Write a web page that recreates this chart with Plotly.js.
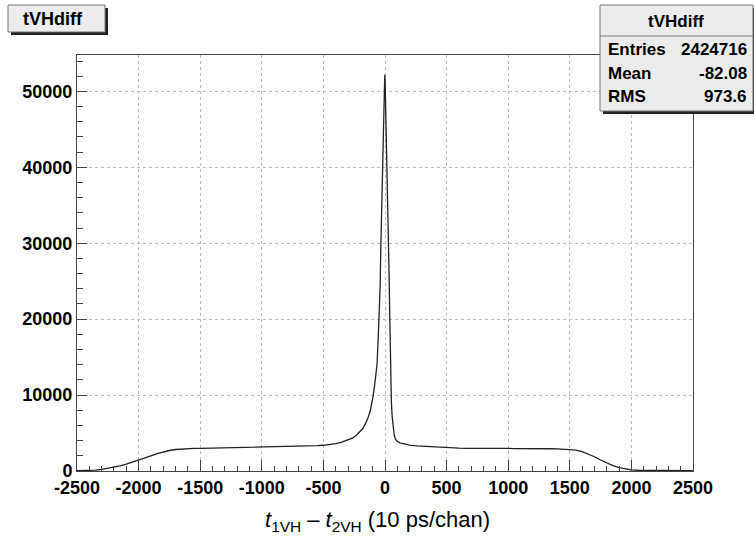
<!DOCTYPE html>
<html>
<head>
<meta charset="utf-8">
<script src="https://cdn.plot.ly/plotly-3.0.1.min.js"></script>
<style>html,body{margin:0;padding:0;background:#fff;}#chart{width:754px;height:537px;}</style>
</head>
<body>
<div id="chart"></div>
<script>
// Bin positions (10 ps channels) and counts
var binX = [
  -2500,-2450,-2400,-2350,-2300,-2250,-2200,-2150,-2100,-2050,
  -2000,-1950,-1900,-1850,-1800,-1750,-1700,-1650,-1600,-1550,
  -1500,-1450,-1400,-1350,-1300,-1250,-1200,-1150,-1100,-1050,
  -1000,-950,-900,-850,-800,-750,-700,-650,-600,-550,
  -500,-450,-400,-350,-300,-260,-230,-200,-180,-160,
  -140,-120,-105,-95,-85,-75,-65,-55,-48,-40,
  -33,-26,-19,-13,-8,-4,-2,0,2,5,
  8,13,18,22,27,33,38,42,45,48,
  52,58,65,75,85,100,120,150,200,260,
  350,450,550,600,650,700,750,800,850,900,
  950,1000,1050,1100,1150,1200,1250,1300,1350,1400,
  1450,1500,1550,1600,1650,1700,1750,1800,1850,1900,
  1950,2000,2050,2100,2150,2200,2250,2300,2350,2400,
  2450,2500
];
var binCounts = [
  30,40,60,110,200,330,480,680,900,1150,
  1420,1700,2000,2280,2520,2700,2830,2900,2960,2980,
  2990,3010,3000,3030,3020,3040,3050,3060,3070,3080,
  3090,3110,3130,3150,3170,3200,3230,3270,3300,3340,
  3390,3480,3620,3800,4050,4350,4750,5200,5600,6200,
  6900,7900,9000,10000,11200,12500,14000,17500,20000,24000,
  30000,35000,40000,45000,49000,51000,52200,51800,50500,48500,
  46000,42000,38000,34000,30000,26000,21000,17000,14000,11000,
  9000,7200,5800,4700,4200,3900,3700,3550,3400,3300,
  3200,3080,3020,3010,2990,3000,2980,2970,2990,2980,
  2970,2980,2960,2970,2960,2950,2940,2950,2930,2920,
  2900,2880,2760,2560,2250,1880,1450,1050,700,430,
  250,150,100,80,65,55,50,45,40,35,
  30,30
];
var xTickVals = [-2500,-2000,-1500,-1000,-500,0,500,1000,1500,2000,2500];
var yTickVals = [0,10000,20000,30000,40000,50000];
var histName = 'tVHdiff';
var statLabels = ['Entries','Mean','RMS'];
var statValues = ['2424716','-82.08','973.6'];
var xTitle = '<i>t</i><sub>1VH</sub> \u2013 <i>t</i><sub>2VH</sub> (10 ps/chan)';

// plot area in pixels: x 77..693, y 55..471
var L = 77, R = 693, T = 55, B = 471;
function px(x){ return (x - L) / (R - L); }
function py(y){ return (B - y) / (B - T); }

var font = 'Liberation Sans, Arial, Helvetica, sans-serif';
var frameCol = '#444';

var shapes = [
  {type:'rect', xref:'paper', yref:'paper', x0:px(11), x1:px(108), y0:py(35), y1:py(8), fillcolor:'#222', line:{width:0}, layer:'above'},
  {type:'rect', xref:'paper', yref:'paper', x0:px(8), x1:px(105), y0:py(32), y1:py(5), fillcolor:'#ececec', line:{color:'#777', width:1}, layer:'above'},
  {type:'rect', xref:'paper', yref:'paper', x0:px(603), x1:px(756), y0:py(114), y1:py(8), fillcolor:'#222', line:{width:0}, layer:'above'},
  {type:'rect', xref:'paper', yref:'paper', x0:px(600), x1:px(753), y0:py(111), y1:py(5), fillcolor:'#ececec', line:{color:'#777', width:1}, layer:'above'},
  {type:'line', xref:'paper', yref:'paper', x0:px(600), x1:px(753), y0:py(36), y1:py(36), line:{color:'#777', width:1}, layer:'above'}
];

var annotations = [
  {xref:'paper', yref:'paper', x:px(53), y:py(19), text:'<b>'+histName+'</b>', showarrow:false, xanchor:'center', yanchor:'middle', font:{family:font, size:18, color:'#000'}},
  {xref:'paper', yref:'paper', x:px(676), y:py(21), text:'<b>'+histName+'</b>', showarrow:false, xanchor:'center', yanchor:'middle', font:{family:font, size:17, color:'#000'}},
  {xref:'paper', yref:'paper', x:px(377), y:py(521), text:xTitle, showarrow:false, xanchor:'center', yanchor:'middle', font:{family:font, size:22, color:'#000'}}
];
var rowY = [50, 74, 97];
for (var i = 0; i < statLabels.length; i++) {
  annotations.push({xref:'paper', yref:'paper', x:px(606), y:py(rowY[i]), text:'<b>'+statLabels[i]+'</b>', showarrow:false, xanchor:'left', yanchor:'middle', font:{family:font, size:17, color:'#000'}});
  annotations.push({xref:'paper', yref:'paper', x:px(749), y:py(rowY[i]), text:'<b>'+statValues[i]+'</b>', showarrow:false, xanchor:'right', yanchor:'middle', font:{family:font, size:17, color:'#000'}});
}

var trace = {
  x: binX, y: binCounts, type:'scatter', mode:'lines',
  line:{color:'#222', width:1.3, shape:'linear'},
  hoverinfo:'skip'
};

var layout = {
  width:754, height:537,
  margin:{l:L, r:754-R, t:T, b:537-B, pad:0},
  paper_bgcolor:'#fff', plot_bgcolor:'#fff',
  showlegend:false,
  xaxis:{
    range:[-2500,2500], tickmode:'array', tickvals:xTickVals, ticktext:xTickVals.map(String),
    ticks:'inside', ticklen:11, tickcolor:frameCol, tickwidth:1,
    minor:{dtick:100, ticks:'inside', ticklen:5, tickcolor:frameCol, showgrid:false},
    showgrid:true, gridcolor:'#bbb', griddash:'dot', gridwidth:1,
    showline:true, linecolor:frameCol, linewidth:1, mirror:true,
    zeroline:false,
    tickfont:{family:font, size:18, color:'#000', weight:'bold'}
  },
  yaxis:{
    range:[0,54800], tickmode:'array', tickvals:yTickVals, ticktext:yTickVals.map(String),
    ticks:'inside', ticklen:10, tickcolor:frameCol, tickwidth:1,
    minor:{dtick:2000, ticks:'inside', ticklen:6, tickcolor:frameCol, showgrid:false},
    showgrid:true, gridcolor:'#bbb', griddash:'dot', gridwidth:1,
    showline:true, linecolor:frameCol, linewidth:1, mirror:true,
    zeroline:false,
    tickfont:{family:font, size:18, color:'#000', weight:'bold'}
  },
  shapes:shapes,
  annotations:annotations
};

Plotly.newPlot('chart', [trace], layout, {staticPlot:true, displayModeBar:false});
</script>
</body>
</html>
